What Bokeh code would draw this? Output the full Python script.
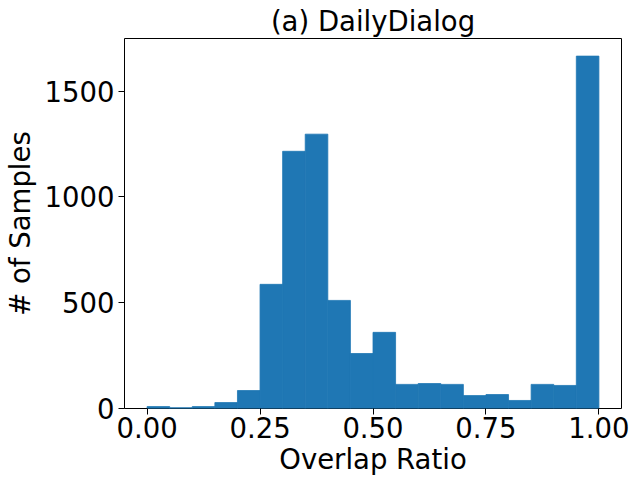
import numpy as np
from bokeh.plotting import figure
from bokeh.models import Range1d, FixedTicker, NumeralTickFormatter, ColumnDataSource
from bokeh.embed import file_html
from bokeh.resources import INLINE

# Histogram data: 20 bins over [0, 1]
bin_lefts = [0.00, 0.05, 0.10, 0.15, 0.20, 0.25, 0.30, 0.35, 0.40, 0.45,
             0.50, 0.55, 0.60, 0.65, 0.70, 0.75, 0.80, 0.85, 0.90, 0.95]
bin_width = 0.05
counts = [9, 4, 9, 28, 85, 587, 1216, 1297, 511, 260,
          360, 114, 118, 114, 61, 66, 38, 114, 109, 1666]
x_ticks = [0.0, 0.25, 0.5, 0.75, 1.0]
y_ticks = [0, 500, 1000, 1500]

src = ColumnDataSource(dict(
    left=bin_lefts,
    right=[b + bin_width for b in bin_lefts],
    top=counts,
    bottom=[0] * len(counts),
))

FONT = "DejaVu Sans"
FS = "27.5px"

p = figure(frame_width=497, frame_height=370, output_backend="svg", toolbar_location=None,
           x_range=Range1d(-0.05, 1.05), y_range=Range1d(0, max(counts) * 1.05),
           title="(a) DailyDialog",
           min_border_left=116, min_border_right=8, min_border_top=32, min_border_bottom=73)

p.quad(left="left", right="right", top="top", bottom="bottom", source=src,
       fill_color="#1f77b4", line_color="#1f77b4", line_width=0.8)

p.title.align = "center"
p.title.text_font = FONT
p.title.text_font_size = FS
p.title.text_font_style = "normal"
p.title.text_color = "black"
p.title.text_line_height = 1.0
p.title.standoff = 4

p.xgrid.visible = False
p.ygrid.visible = False
p.outline_line_color = "black"
p.outline_line_width = 1
p.outline_line_alpha = 1
p.background_fill_color = "white"
p.border_fill_color = "white"

for ax in (p.xaxis[0], p.yaxis[0]):
    ax.axis_line_color = None
    ax.major_tick_line_color = "black"
    ax.major_tick_out = 6
    ax.major_tick_in = 0
    ax.minor_tick_line_color = None
    ax.major_label_text_font = FONT
    ax.major_label_text_font_size = FS
    ax.major_label_text_color = "black"
    ax.major_label_text_line_height = 1.0
    ax.axis_label_text_font = FONT
    ax.axis_label_text_font_size = FS
    ax.axis_label_text_font_style = "normal"
    ax.axis_label_text_color = "black"
    ax.axis_label_text_line_height = 1.0

p.xaxis[0].ticker = FixedTicker(ticks=x_ticks)
p.xaxis[0].formatter = NumeralTickFormatter(format="0.00")
p.xaxis[0].axis_label = "Overlap Ratio"
p.xaxis[0].major_label_standoff = 2
p.xaxis[0].axis_label_standoff = 2

p.yaxis[0].ticker = FixedTicker(ticks=y_ticks)
p.yaxis[0].axis_label = "# of Samples"
p.yaxis[0].major_label_standoff = 4
p.yaxis[0].axis_label_standoff = 6

open("out.html", "w").write(file_html(p, INLINE))
